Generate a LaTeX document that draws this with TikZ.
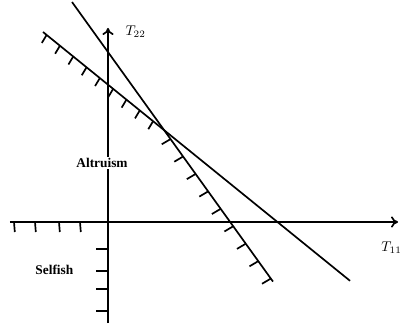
\documentclass[tikz,border=0pt]{standalone}
\usepackage{fontspec}
\setmainfont{Liberation Serif}
\usepackage{tikz}
\usetikzlibrary{calc,arrows.meta}

\begin{document}
\begin{tikzpicture}[line width=1.2pt,
  axis/.style={-{To[length=5pt,width=8pt]}},
  hatch/.style={line width=1.2pt},
  region/.style={font=\bfseries\fontsize{9.5}{11}\selectfont}]
\useasboundingbox (-2.7,-2.65) rectangle (7.3,5.55);
% Points of the two lines and their crossing
\coordinate (P) at (1.4,2.3);
\coordinate (A1) at (-1.625,4.75);
\coordinate (A2) at (6.05,-1.47);
\coordinate (B1) at (-0.9,5.5);
\coordinate (B2) at (4.125,-1.49);
% Axes
\coordinate (O) at (0,0);
\coordinate (xl) at (-2.45,0);
\coordinate (xr) at (7.25,0);
\coordinate (yb) at (0,-2.525);
\coordinate (yt) at (0,4.85);
\draw[axis] (xl) -- (xr);
\draw[axis] (yb) -- (yt);
\node[anchor=west,inner sep=1pt] (t11) at (6.78,-0.65) {$T_{11}$};
\node[anchor=west] (t22) at (0.3,4.75) {$T_{22}$};
% Hatching on the negative axes
\foreach \u in {-2.35,-1.825,-1.225,-0.7}
  \draw[hatch] (\u,0) -- ++(0.02,-0.25);
\foreach \v in {-0.675,-1.225,-1.675,-2.225}
  \draw[hatch] (0,\v) -- ++(-0.3,0);
% The two lines
\draw (A1) -- (A2);
\draw (B1) -- (B2);
% Hatching on the lower boundary
\foreach \t in {0.03,0.14,...,0.92}
  \draw[hatch] ($(A1)!\t!(P)$) -- ++(-0.12,-0.2);
\foreach \t in {0.06,0.175,...,0.99}
  \draw[hatch] ($(P)!\t!(B2)$) -- ++(-0.22,-0.13);
% Region labels
\node[region,fill=white,inner sep=1pt] (alt) at (-0.15,1.475) {Altruism};
\node[region] (sel) at (-1.34,-1.2) {Selfish};
\end{tikzpicture}
\end{document}
